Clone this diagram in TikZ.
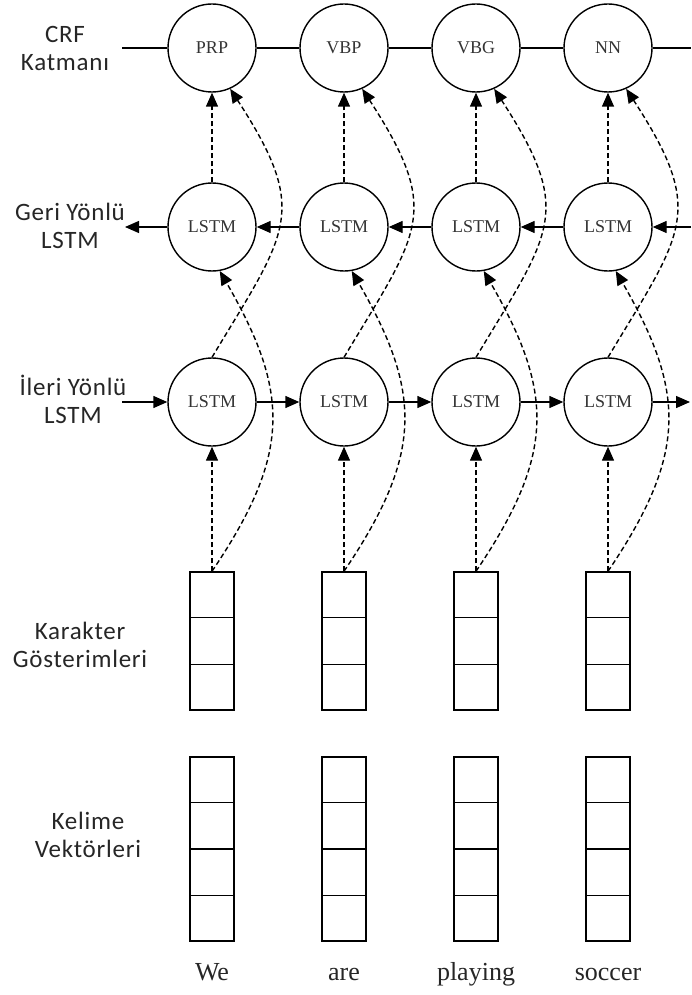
\documentclass[tikz,border=0pt]{standalone}
\usepackage{fontspec}
\setmainfont{Liberation Serif}
\newfontfamily\layerfont[LetterSpace=3]{Carlito}
\usetikzlibrary{arrows.meta,calc}

\tikzset{
  cell/.style={circle, draw, line width=1.4pt, minimum size=88pt, inner sep=0pt,
    font=\fontsize{18}{20}\selectfont, text=black!80},
  vecbox/.style={draw, line width=1.4pt, minimum width=44pt, inner sep=0pt},
  layer/.style={align=center, text=black!85, font=\layerfont\fontsize{25}{28}\selectfont},
  word/.style={anchor=base, text=black!85, font=\fontsize{26}{28}\selectfont},
  link/.style={line width=1.4pt},
  flow/.style={line width=1.4pt, -{Triangle[length=14pt,width=12pt]}},
  feed/.style={flow, dash pattern=on 5pt off 3pt},
}

\begin{document}
\begin{tikzpicture}[x=1pt,y=1pt,yscale=-1]
\useasboundingbox (0,0) rectangle (691,995);

% Layer labels
\node[layer] (lcrf) at (65,48) {CRF\\Katmanı};
\node[layer] (lgeri) at (70,226) {Geri Yönlü\\LSTM};
\node[layer] (lileri) at (73,399) {İleri Yönlü\\LSTM};
\node[layer] (lkar) at (80,645) {Karakter\\Gösterimleri};
\node[layer] (lkel) at (88,835) {Kelime\\Vektörleri};

% Columns
\foreach \i/\x/\tag/\w in {1/212/PRP/We, 2/344/VBP/are, 3/476/VBG/playing, 4/608/NN/soccer}{
  \node[cell] (crf\i) at (\x,48) {\tag};
  \node[cell] (geri\i) at (\x,227) {LSTM};
  \node[cell] (ileri\i) at (\x,402) {LSTM};
  \node[vecbox, minimum height=138pt] (kar\i) at (\x,641) {};
  \node[vecbox, minimum height=184pt] (kel\i) at (\x,849) {};
  \node[word] (word\i) at (\x,980) {\w};
}

% Cells of the vectors
\foreach \i in {1,...,4}{
  \foreach \k in {1,2}
    \draw[link] ($(kar\i.north west)!\k/3!(kar\i.south west)$) -- ($(kar\i.north east)!\k/3!(kar\i.south east)$);
  \foreach \k in {1,2,3}
    \draw[link] ($(kel\i.north west)!\k/4!(kel\i.south west)$) -- ($(kel\i.north east)!\k/4!(kel\i.south east)$);
}

% Free ends of the chains
\coordinate (crfL) at (122,48);
\coordinate (crfR) at (691,48);
\coordinate (geriL) at (125,227);
\coordinate (geriR) at (691,227);
\coordinate (ileriL) at (122,402);
\coordinate (ileriR) at (690,402);

% Chains
\draw[link] (crfL) -- (crf1);
\draw[link] (crf4) -- (crfR);
\draw[flow] (geri1) -- (geriL);
\draw[flow] (geriR) -- (geri4);
\draw[flow] (ileriL) -- (ileri1);
\draw[flow] (ileri4) -- (ileriR);
\foreach \i/\j in {1/2, 2/3, 3/4}{
  \draw[link] (crf\i) -- (crf\j);
  \draw[flow] (geri\j) -- (geri\i);
  \draw[flow] (ileri\i) -- (ileri\j);
}

% Dashed feeds
\foreach \i in {1,...,4}{
  \draw[feed] (kar\i) -- (ileri\i);
  \draw[feed] (geri\i) -- (crf\i);
  \draw[feed] (kar\i.north) to[out=-56, in=60, looseness=1.2] (geri\i.-80);
  \draw[feed] (ileri\i.north) to[out=-59, in=57, looseness=1.4] (crf\i.-66);
}

\end{tikzpicture}
\end{document}
